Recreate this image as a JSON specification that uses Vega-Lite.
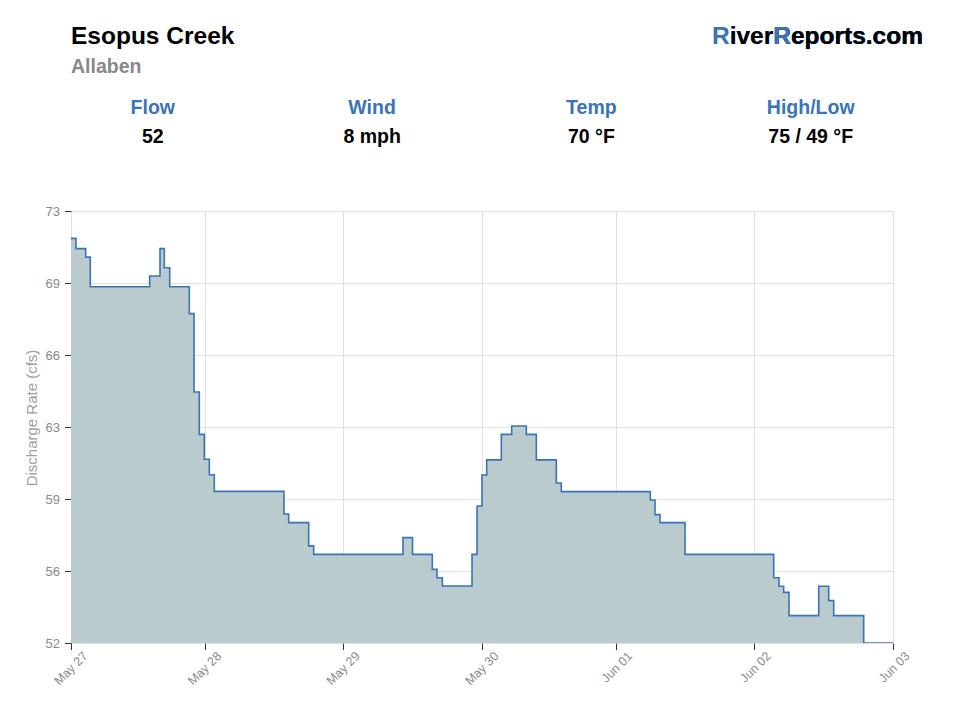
{
  "$schema": "https://vega.github.io/schema/vega-lite/v6.json",
  "background": "white",
  "padding": {"left": 24, "top": 23.5, "right": 5, "bottom": 5},
  "bounds": "flush",
  "spacing": 59.5,
  "config": {
    "font": "Liberation Sans",
    "view": {"stroke": null},
    "axis": {
      "grid": true,
      "gridColor": "#e0e0e0",
      "gridWidth": 1,
      "domain": false,
      "tickColor": "#333333",
      "tickSize": 6.5,
      "tickWidth": 1,
      "labelColor": "#8a8a8a",
      "labelFontSize": 12.5,
      "labelFont": "Liberation Sans",
      "titleFont": "Liberation Sans",
      "zindex": 1
    }
  },
  "vconcat": [
    {
      "width": 852,
      "height": 58,
      "data": {
        "values": [
          {"stat": "Flow", "row": "label", "text": "Flow"},
          {"stat": "Flow", "row": "value", "text": "52"},
          {"stat": "Wind", "row": "label", "text": "Wind"},
          {"stat": "Wind", "row": "value", "text": "8 mph"},
          {"stat": "Temp", "row": "label", "text": "Temp"},
          {"stat": "Temp", "row": "value", "text": "70 °F"},
          {"stat": "High/Low", "row": "label", "text": "High/Low"},
          {"stat": "High/Low", "row": "value", "text": "75 / 49 °F"}
        ]
      },
      "layer": [
        {
          "transform": [{"filter": "datum.row == 'label'"}],
          "mark": {"type": "text", "fontSize": 19.5, "fontWeight": "bold", "color": "#3a73b9", "align": "center", "baseline": "middle"},
          "encoding": {
            "x": {"field": "stat", "type": "nominal", "sort": null, "scale": {"type": "point", "domain": ["Flow", "Wind", "Temp", "High/Low"], "padding": 0.4426, "align": 0.4214}, "axis": null},
            "y": {"field": "row", "type": "nominal", "scale": {"type": "point", "domain": ["label", "value"], "padding": 0.5}, "axis": null},
            "text": {"field": "text"}
          }
        },
        {
          "transform": [{"filter": "datum.row == 'value'"}],
          "mark": {"type": "text", "fontSize": 19.5, "fontWeight": "bold", "color": "#000000", "align": "center", "baseline": "middle"},
          "encoding": {
            "x": {"field": "stat", "type": "nominal", "sort": null, "axis": null},
            "y": {"field": "row", "type": "nominal", "axis": null},
            "text": {"field": "text"}
          }
        },
        {
          "data": {"values": [{"title": "Esopus Creek"}]},
          "mark": {"type": "text", "fontSize": 24.5, "fontWeight": "bold", "color": "#000000", "align": "left", "baseline": "alphabetic", "dy": -49.2},
          "encoding": {"x": {"value": 0}, "y": {"value": 0}, "text": {"field": "title"}}
        },
        {
          "data": {"values": [{"title": "Allaben"}]},
          "mark": {"type": "text", "fontSize": 19.5, "fontWeight": "bold", "color": "#888888", "align": "left", "baseline": "alphabetic", "dy": -20.2},
          "encoding": {"x": {"value": 0}, "y": {"value": 0}, "text": {"field": "title"}}
        },
        {
          "data": {"values": [{"brand": "RiverReports.com"}]},
          "mark": {"type": "text", "fontSize": 24.5, "fontWeight": "bold", "color": "#3a73b9", "align": "right", "baseline": "alphabetic", "dy": -49.2},
          "encoding": {"x": {"value": "width"}, "y": {"value": 0}, "text": {"field": "brand"}}
        },
        {
          "data": {"values": [{"brand": "iverReports.com"}]},
          "mark": {"type": "text", "fontSize": 24.5, "fontWeight": "bold", "color": "#000000", "align": "right", "baseline": "alphabetic", "dy": -49.2},
          "encoding": {"x": {"value": "width"}, "y": {"value": 0}, "text": {"field": "brand"}}
        },
        {
          "data": {"values": [{"brand": "Reports.com"}]},
          "mark": {"type": "text", "fontSize": 24.5, "fontWeight": "bold", "color": "#3a73b9", "align": "right", "baseline": "alphabetic", "dy": -49.2},
          "encoding": {"x": {"value": "width"}, "y": {"value": 0}, "text": {"field": "brand"}}
        },
        {
          "data": {"values": [{"brand": "eports.com"}]},
          "mark": {"type": "text", "fontSize": 24.5, "fontWeight": "bold", "color": "#000000", "align": "right", "baseline": "alphabetic", "dy": -49.2},
          "encoding": {"x": {"value": "width"}, "y": {"value": 0}, "text": {"field": "brand"}}
        }
      ],
      "resolve": {"scale": {"x": "shared", "y": "shared"}}
    },
    {
      "width": 822,
      "height": 432,
      "data": {
        "values": [
          {"h": 0, "cfs": 71.67},
          {"h": 1.02, "cfs": 71.17},
          {"h": 3.0, "cfs": 70.76},
          {"h": 3.94, "cfs": 69.32},
          {"h": 16.08, "cfs": 69.84},
          {"h": 18.19, "cfs": 71.17},
          {"h": 19.07, "cfs": 70.24},
          {"h": 20.17, "cfs": 69.32},
          {"h": 24.18, "cfs": 68.01},
          {"h": 25.14, "cfs": 64.2},
          {"h": 26.22, "cfs": 62.14},
          {"h": 27.24, "cfs": 60.93},
          {"h": 28.27, "cfs": 60.18},
          {"h": 29.29, "cfs": 59.37},
          {"h": 43.53, "cfs": 58.27},
          {"h": 44.49, "cfs": 57.85},
          {"h": 48.58, "cfs": 56.72},
          {"h": 49.6, "cfs": 56.31},
          {"h": 67.85, "cfs": 57.12},
          {"h": 69.8, "cfs": 56.31},
          {"h": 73.84, "cfs": 55.58},
          {"h": 74.8, "cfs": 55.17},
          {"h": 75.89, "cfs": 54.77},
          {"h": 81.96, "cfs": 56.31},
          {"h": 82.98, "cfs": 58.66},
          {"h": 84.0, "cfs": 60.17},
          {"h": 84.96, "cfs": 60.9},
          {"h": 87.95, "cfs": 62.14},
          {"h": 90.07, "cfs": 62.55},
          {"h": 93.06, "cfs": 62.14},
          {"h": 95.1, "cfs": 60.9},
          {"h": 99.19, "cfs": 59.78},
          {"h": 100.21, "cfs": 59.36},
          {"h": 118.4, "cfs": 58.95},
          {"h": 119.36, "cfs": 58.24},
          {"h": 120.38, "cfs": 57.85},
          {"h": 125.49, "cfs": 56.31},
          {"h": 143.62, "cfs": 55.17},
          {"h": 144.7, "cfs": 54.76},
          {"h": 145.66, "cfs": 54.46},
          {"h": 146.75, "cfs": 53.33},
          {"h": 152.82, "cfs": 54.76},
          {"h": 154.86, "cfs": 54.06},
          {"h": 155.88, "cfs": 53.33},
          {"h": 162.01, "cfs": 52},
          {"h": 168, "cfs": 52}
        ]
      },
      "encoding": {
        "x": {
          "field": "h",
          "type": "quantitative",
          "scale": {"domain": [0, 168], "nice": false, "zero": false},
          "axis": {
            "title": null,
            "values": [0, 27.33, 55.65, 84, 111.32, 139.65, 168],
            "labelExpr": "['May 27','May 28','May 29','May 30','Jun 01','Jun 02','Jun 03'][round(datum.value / 28)]",
            "labelAngle": -45,
            "labelAlign": "right",
            "labelBaseline": "middle",
            "labelFontSize": 12.5,
            "labelPadding": 4,
            "labelOffset": 14,
            "labelFlush": false,
            "labelOverlap": false
          }
        },
        "y": {
          "field": "cfs",
          "type": "quantitative",
          "scale": {"domain": [52, 73], "nice": false, "zero": false},
          "axis": {
            "title": "Discharge Rate (cfs)",
            "titleFontSize": 15,
            "titleFontWeight": "normal",
            "titleColor": "#a0a0a0",
            "titlePadding": 6,
            "titleY": 206.5,
            "values": [52, 55.5, 59, 62.5, 66, 69.5, 73],
            "labelExpr": "['52','56','59','63','66','69','73'][round((datum.value - 52) / 3.5)]",
            "labelFontSize": 13,
            "labelPadding": 5,
            "labelFlush": false,
            "labelOverlap": false
          }
        }
      },
      "layer": [
        {"mark": {"type": "area", "interpolate": "step-after", "color": "#b9cbcd", "opacity": 1, "clip": true}},
        {"mark": {"type": "line", "interpolate": "step-after", "color": "#3a73b9", "strokeWidth": 1.6, "clip": true}}
      ]
    }
  ]
}
